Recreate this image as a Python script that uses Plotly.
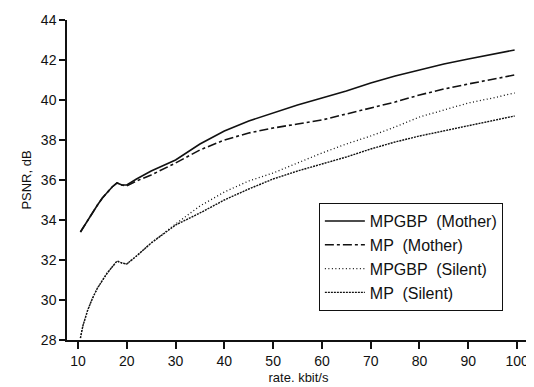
import plotly.graph_objects as go

rate = [10.5, 11, 12, 13, 14, 15, 16, 17, 18, 19, 20, 22, 25, 30, 35, 40, 45, 50,
        55, 60, 65, 70, 75, 80, 85, 90, 95, 99.5]

mpgbp_mother = [33.4, 33.6, 34.0, 34.4, 34.75, 35.1, 35.4, 35.65, 35.85, 35.75, 35.75, 36.05,
                36.45, 37.0, 37.8, 38.45, 38.95, 39.35, 39.75, 40.1, 40.45, 40.85, 41.2,
                41.5, 41.8, 42.05, 42.3, 42.5]
mp_mother = [33.4, 33.6, 34.0, 34.4, 34.75, 35.1, 35.4, 35.65, 35.85, 35.75, 35.7, 35.95,
             36.25, 36.85, 37.5, 38.0, 38.35, 38.6, 38.8, 39.0, 39.3, 39.6, 39.9,
             40.25, 40.55, 40.8, 41.05, 41.25]
mpgbp_silent = [28.1, 28.7, 29.5, 30.1, 30.6, 31.0, 31.35, 31.65, 31.95, 31.85, 31.8, 32.2,
                32.85, 33.8, 34.7, 35.4, 35.95, 36.35, 36.85, 37.35, 37.8, 38.2, 38.65,
                39.15, 39.5, 39.85, 40.1, 40.35]
mp_silent = [28.1, 28.7, 29.5, 30.1, 30.6, 31.0, 31.35, 31.65, 31.95, 31.85, 31.8, 32.2,
             32.85, 33.75, 34.35, 35.0, 35.55, 36.05, 36.45, 36.8, 37.15, 37.55, 37.9,
             38.2, 38.45, 38.7, 38.95, 39.2]

x_ticks = [10, 20, 30, 40, 50, 60, 70, 80, 90, 100]
y_ticks = [28, 30, 32, 34, 36, 38, 40, 42, 44]

series = [
    ("MPGBP  (Mother)", mpgbp_mother, "solid", 1.6),
    ("MP  (Mother)", mp_mother, "dashdot", 1.6),
    ("MPGBP  (Silent)", mpgbp_silent, "1px,2.5px", 1.3),
    ("MP  (Silent)", mp_silent, "2px,1px", 1.4),
]

fig = go.Figure()
for name, vals, dash, w in series:
    fig.add_trace(go.Scatter(x=rate, y=vals, mode="lines", name=name,
                             line=dict(color="#111111", width=w, dash=dash)))

font = "Liberation Sans, Arial, sans-serif"
fig.update_layout(
    width=526, height=379,
    margin=dict(l=59, r=4, t=9, b=47),
    paper_bgcolor="white", plot_bgcolor="white",
    font=dict(family=font, size=14, color="#111111"),
    showlegend=True,
    legend=dict(x=0.544, y=0.428, xanchor="left", yanchor="top",
                bordercolor="#111111", borderwidth=1, bgcolor="white",
                font=dict(size=16), tracegroupgap=0, itemwidth=40),
    xaxis=dict(range=[7.75, 102.65], tickvals=x_ticks, ticks="outside", ticklen=7,
               tickwidth=1.5, showline=True, linecolor="#111111", linewidth=1.5,
               showgrid=False, zeroline=False, tickcolor="#111111",
               tickfont=dict(size=14),
               title=dict(text="rate. kbit/s", font=dict(size=13), standoff=5)),
    yaxis=dict(range=[28, 44], tickvals=y_ticks, ticks="outside", ticklen=6,
               tickwidth=1.5, showline=True, linecolor="#111111", linewidth=1.5,
               showgrid=False, zeroline=False, tickcolor="#111111",
               tickfont=dict(size=14),
               title=dict(text="PSNR, dB", font=dict(size=13), standoff=6)),
)

fig.write_html("out.html")
